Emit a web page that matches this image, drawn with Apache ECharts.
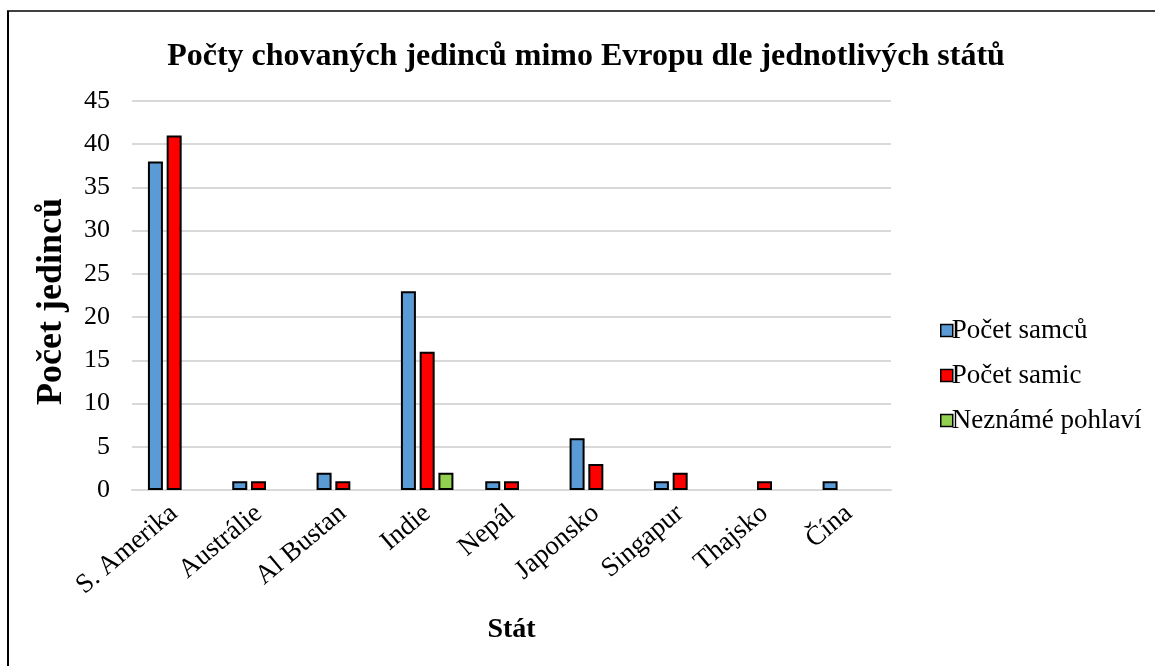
<!DOCTYPE html>
<html>
<head>
<meta charset="utf-8">
<script src="https://cdn.jsdelivr.net/npm/echarts@6/dist/echarts.min.js"></script>
<style>
  html, body { margin: 0; padding: 0; background: #fff; }
  #chart { width: 1155px; height: 666px; }
</style>
</head>
<body>
<div id="chart"></div>
<script>
  // data
  var states = ['S. Amerika', 'Austrálie', 'Al Bustan', 'Indie', 'Nepál', 'Japonsko', 'Singapur', 'Thajsko', 'Čína']
  var males = [38, 1, 2, 23, 1, 6, 1, 0, 1]
  var females = [41, 1, 1, 16, 1, 3, 2, 1, 0]
  var unknown = [0, 0, 0, 2, 0, 0, 0, 0, 0]
  var seriesNames = ['Počet samců', 'Počet samic', 'Neznámé pohlaví']
  var seriesColors = ['#5b9bd5', '#ff0000', '#92d050']

  var serif = '"Liberation Serif", "DejaVu Serif", serif'

  var chart = echarts.init(document.getElementById('chart'))

  function barSeries(name, data, color) {
    return {
      name: name,
      type: 'bar',
      // zero values get no bar (otherwise the border draws a flat line)
      data: data.map(function (v) { return v === 0 ? '-' : v }),
      barWidth: 15,
      barGap: '25%',
      itemStyle: {
        color: color,
        borderColor: '#000',
        borderWidth: 2
      },
      animation: false
    }
  }

  chart.setOption({
    backgroundColor: '#fff',
    title: {
      text: 'Počty chovaných jedinců mimo Evropu dle jednotlivých států',
      left: 581,
      textAlign: 'center',
      top: 36,
      textStyle: {
        fontFamily: serif,
        fontSize: 32,
        fontWeight: 'bold',
        color: '#000'
      }
    },
    grid: {
      left: 132,
      right: 264,
      top: 101,
      bottom: 176
    },
    legend: {
      orient: 'vertical',
      left: 935,
      top: 312,
      itemGap: 18,
      itemWidth: 12,
      itemHeight: 12,
      icon: 'rect',
      data: seriesNames,
      itemStyle: { borderColor: '#000', borderWidth: 1.5 },
      textStyle: {
        fontFamily: serif,
        fontSize: 27,
        color: '#000',
        padding: [0, 0, 0, -6]
      }
    },
    xAxis: {
      type: 'category',
      data: states,
      name: 'Stát',
      nameLocation: 'middle',
      nameGap: 126,
      nameTextStyle: {
        fontFamily: serif,
        fontSize: 28,
        fontWeight: 'bold',
        color: '#000'
      },
      axisLine: { lineStyle: { color: '#d9d9d9', width: 2 } },
      axisTick: { show: false },
      axisLabel: {
        rotate: 40,
        interval: 0,
        margin: 20,
        fontFamily: serif,
        fontSize: 27,
        color: '#000'
      }
    },
    yAxis: {
      type: 'value',
      min: 0,
      max: 45,
      interval: 5,
      name: 'Počet jedinců',
      nameLocation: 'middle',
      nameGap: 62,
      nameTextStyle: {
        fontFamily: serif,
        fontSize: 36,
        fontWeight: 'bold',
        color: '#000',
        padding: [0, 12, 0, 0]
      },
      axisLine: { show: false },
      axisTick: { show: false },
      splitLine: { lineStyle: { color: '#d9d9d9', width: 2 } },
      axisLabel: {
        margin: 22,
        fontFamily: serif,
        fontSize: 26,
        color: '#000'
      }
    },
    graphic: [
      {
        type: 'line',
        shape: { x1: 7, y1: 11, x2: 1155, y2: 11 },
        style: { stroke: '#404040', lineWidth: 2 }
      },
      {
        type: 'line',
        shape: { x1: 8, y1: 11, x2: 8, y2: 666 },
        style: { stroke: '#000', lineWidth: 2 }
      }
    ],
    series: [
      barSeries(seriesNames[0], males, seriesColors[0]),
      barSeries(seriesNames[1], females, seriesColors[1]),
      barSeries(seriesNames[2], unknown, seriesColors[2])
    ]
  })
</script>
</body>
</html>
